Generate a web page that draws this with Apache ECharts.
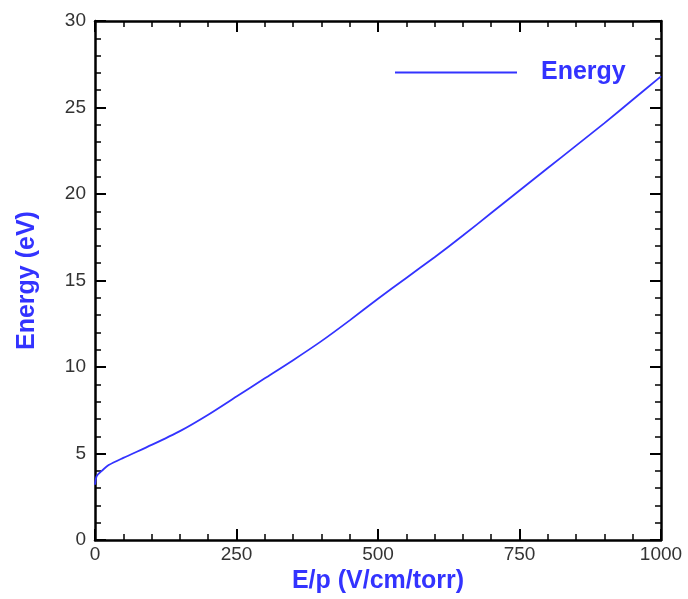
<!DOCTYPE html>
<html>
<head>
<meta charset="utf-8">
<script src="https://cdn.jsdelivr.net/npm/echarts@6/dist/echarts.min.js"></script>
<style>
html,body{margin:0;padding:0;background:#fff;}
#chart{width:688px;height:599px;}
</style>
</head>
<body>
<div id="chart"></div>
<script>
var ep = [0, 3, 12, 25, 50, 100, 150, 200, 250, 300, 350, 400, 450, 500, 550, 600, 650, 700, 750, 800, 850, 900, 950, 1000];
var energy = [3.2, 3.7, 4.0, 4.35, 4.75, 5.5, 6.3, 7.25, 8.3, 9.35, 10.4, 11.5, 12.7, 13.95, 15.15, 16.35, 17.6, 18.9, 20.2, 21.5, 22.8, 24.1, 25.45, 26.8];
var seriesName = 'Energy';
var xTitle = 'E/p (V/cm/torr)';
var yTitle = 'Energy (eV)';

var blue = '#3333ff';
var font = 'Liberation Sans, Arial, sans-serif';
var chart = echarts.init(document.getElementById('chart'), null, {renderer: 'canvas'});

function axisBase(extra) {
  return Object.assign({
    axisLine: {show: true, onZero: false, lineStyle: {color: '#000', width: 2.5}},
    axisTick: {show: true, inside: true, length: 11, lineStyle: {color: '#000', width: 2}},
    minorTick: {show: true, splitNumber: 5, length: 6, lineStyle: {color: '#000', width: 1.5}},
    splitLine: {show: false},
    minorSplitLine: {show: false}
  }, extra);
}

var data = ep.map(function (x, i) { return [x, energy[i]]; });
var plain = function (v) { return String(v); };

chart.setOption({
  animation: false,
  backgroundColor: '#fff',
  grid: {left: 95, top: 21, right: 27, bottom: 57, containLabel: false},
  legend: {
    data: [seriesName],
    left: 395, top: 60,
    padding: 0,
    icon: 'rect',
    itemWidth: 122, itemHeight: 2,
    textStyle: {color: blue, fontFamily: font, fontWeight: 'bold', fontSize: 25, padding: [0, 0, 0, 19]}
  },
  xAxis: [
    axisBase({
      type: 'value', position: 'bottom', min: 0, max: 1000, interval: 250,
      name: xTitle, nameLocation: 'middle', nameGap: 21,
      nameTextStyle: {color: blue, fontFamily: font, fontWeight: 'bold', fontSize: 25},
      axisLabel: {show: true, color: '#333', fontFamily: font, fontSize: 19, margin: 5, formatter: plain}
    }),
    axisBase({
      type: 'value', position: 'top', min: 0, max: 1000, interval: 250,
      axisLabel: {show: false}
    })
  ],
  yAxis: [
    axisBase({
      type: 'value', position: 'left', min: 0, max: 30, interval: 5,
      name: yTitle, nameLocation: 'middle', nameGap: 55,
      nameTextStyle: {color: blue, fontFamily: font, fontWeight: 'bold', fontSize: 25},
      axisLabel: {show: true, color: '#333', fontFamily: font, fontSize: 19, margin: 9, formatter: plain}
    }),
    axisBase({
      type: 'value', position: 'right', min: 0, max: 30, interval: 5,
      axisLabel: {show: false}
    })
  ],
  series: [{
    name: seriesName,
    type: 'line',
    xAxisIndex: 0, yAxisIndex: 0,
    data: data,
    smooth: 0.25,
    showSymbol: false,
    symbol: 'none',
    lineStyle: {color: blue, width: 1.8},
    itemStyle: {color: blue}
  }]
});
</script>
</body>
</html>
